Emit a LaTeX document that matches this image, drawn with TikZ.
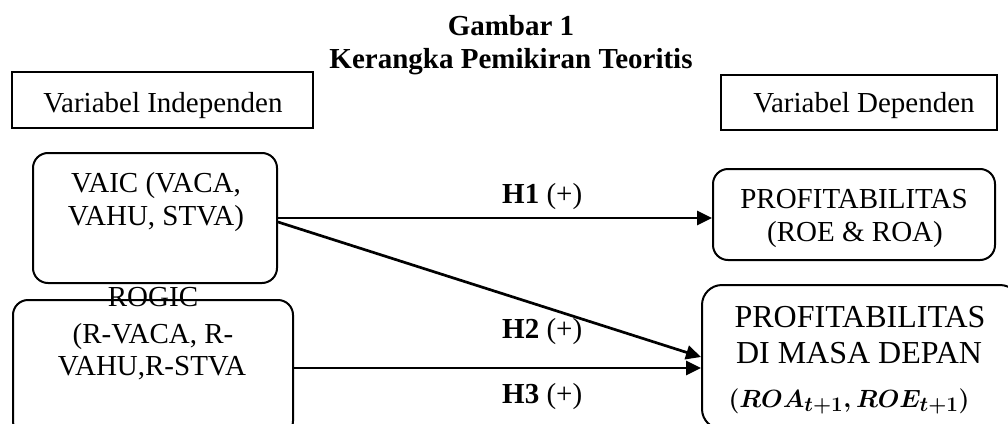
\documentclass[tikz,border=0pt]{standalone}
\usepackage{fontspec}
\setmainfont{Liberation Serif}
\usetikzlibrary{arrows.meta,calc}
\begin{document}
\begin{tikzpicture}[x=1pt,y=-1pt,
  txt/.style={font=\fontsize{29}{33}\selectfont, inner sep=0pt, anchor=base},
  bigtxt/.style={font=\fontsize{32}{36}\selectfont, inner sep=0pt, anchor=base},
  headtxt/.style={font=\fontsize{29}{33}\selectfont\bfseries, inner sep=0pt, anchor=base},
  hlab/.style={font=\fontsize{29}{33}\selectfont, inner sep=0pt, anchor=base west},
  sqbox/.style={draw, line width=2pt, rectangle, inner sep=0pt},
  rbox/.style={draw, line width=2pt, rectangle, rounded corners=15pt, inner sep=0pt},
  arr/.style={line width=2.7pt, -{Triangle[length=15pt,width=14pt]}}]
\useasboundingbox (0,0) rectangle (1008,423);
\clip (0,0) rectangle (1008,423);

% headings
\node[headtxt] (title1) at (511,35) {Gambar 1};
\node[headtxt] (title2) at (511,68) {Kerangka Pemikiran Teoritis};

% category boxes
\node[sqbox, minimum width=301pt, minimum height=56pt] (vi) at (162.5,100) {};
\node[txt] (vitext) at (163,112) {Variabel Independen};
\node[sqbox, minimum width=276pt, minimum height=55pt] (vd) at (859,102.5) {};
\node[txt] (vdtext) at (864,112) {Variabel Dependen};

% VAIC box
\node[rbox, minimum width=244pt, minimum height=130pt] (vaic) at (155,218) {};
\node[txt] (vaic1) at (156,192) {VAIC (VACA,};
\node[txt] (vaic2) at (156,225) {VAHU, STVA)};

% ROGIC box
\node[rbox, minimum width=280pt, minimum height=136pt] (rogic) at (153,368) {};
\node[txt] (rogic0) at (153,306) {ROGIC};
\node[txt] (rogic1) at (153,343) {(R-VACA, R-};
\node[txt] (rogic2) at (152,375) {VAHU,R-STVA};

% PROFITABILITAS box
\node[rbox, minimum width=282pt, minimum height=91pt] (prof) at (854,214.5) {};
\node[txt] (prof1) at (854,208) {PROFITABILITAS};
\node[txt] (prof2) at (855,241) {(ROE \& ROA)};

% future box
\node[rbox, rounded corners=20pt, minimum width=318pt, minimum height=144pt] (fut) at (861,357) {};
\node[bigtxt] (fut1) at (860,327) {PROFITABILITAS};
\node[bigtxt] (fut2) at (859,363) {DI MASA DEPAN};
\node[font=\fontsize{32}{36}\selectfont\boldmath, inner sep=0pt, anchor=base] (fut3) at (849,407) {$(ROA_{t+1},ROE_{t+1})$};

% connectors
\draw[arr] (vaic.east) -- (vaic.east -| prof.west);
\draw[arr] ($(vaic.east)+(0,4)$) -- (fut.west);
\draw[arr] (rogic.east) -- (rogic.east -| fut.west);

% hypothesis labels
\node[hlab] (h1) at (502,203) {\textbf{H1} (+)};
\node[hlab] (h2) at (502,338) {\textbf{H2} (+)};
\node[hlab] (h3) at (502,403) {\textbf{H3} (+)};
\end{tikzpicture}
\end{document}
